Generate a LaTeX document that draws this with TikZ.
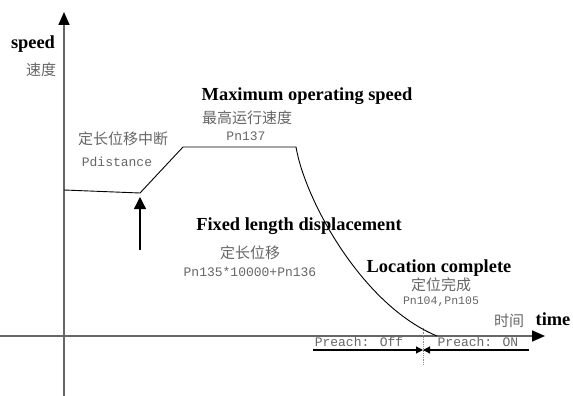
\documentclass[tikz,border=0pt]{standalone}
\usepackage{fontspec}
\setmainfont{Liberation Serif}
\newfontfamily\cjk{Noto Sans CJK SC}
\newfontfamily\pnmono{Liberation Mono}
\usetikzlibrary{arrows.meta}

\begin{document}
\begin{tikzpicture}[
			x=1pt,y=-1pt,
			axis/.style={draw=black!60,line width=1.6pt,-{Triangle[length=13pt,width=11pt,color=black]}},
			curve/.style={draw=black,line width=0.9pt},
			pointer/.style={draw=black,line width=1.3pt,-{Triangle[length=12pt,width=12pt]}},
			reach/.style={draw=black,line width=1.1pt,-{Triangle[length=7pt,width=7pt]}},
			title/.style={font=\fontsize{18.4}{20}\selectfont\bfseries,inner sep=0pt},
			zh/.style={font=\fontsize{15}{16}\selectfont\cjk,text=black!60,inner sep=0pt},
			pn/.style={font=\fontsize{13}{14}\selectfont\pnmono,text=black!60,inner sep=0pt}]
			\useasboundingbox (0,0) rectangle (573,396);
			% axes
			\coordinate (ybot) at (64,396);
			\coordinate (ytop) at (64,12);
			\coordinate (xleft) at (0,336);
			\coordinate (xright) at (545,336);
			\draw[axis] (ybot)--(ytop);
			\draw[axis] (xleft)--(xright);
			% speed profile
			\coordinate (v0) at (64,190);
			\coordinate (v1) at (140,193);
			\coordinate (v2) at (183,147);
			\coordinate (v3) at (296,147);
			\coordinate (v4) at (437,336);
			\draw[curve] (v0)--(v1)--(v2)--(v3) .. controls (305,200) and (362,305) .. (v4);
			% interrupt signal
			\coordinate (hitbot) at (140,250);
			\coordinate (hittip) at (140,197);
			\draw[pointer] (hitbot)--(hittip);
			% preach window
			\coordinate (pleft) at (313,350);
			\coordinate (pright) at (529,350);
			\coordinate (pmid) at (423,350);
			\coordinate (dtop) at (423,328);
			\coordinate (dbot) at (423,365);
			\draw[black!45,densely dotted,line width=0.8pt] (dtop)--(dbot);
			\draw[reach] (pleft)--(pmid);
			\draw[reach] (pright)--(pmid);
			% labels
			\node[title] (speed) at (33,44) {speed};
			\node[zh] (sudu) at (41,70) {速度};
			\node[zh] (stopzh) at (123,139) {定长位移中断};
			\node[pn] (stop) at (117,162) {Pdistance};
			\node[title] (maxsp) at (307,96) {Maximum operating speed};
			\node[zh] (maxzh) at (247,118) {最高运行速度};
			\node[pn] (maxpn) at (246,136) {Pn137};
			\node[title] (fixed) at (299,226) {Fixed length displacement};
			\node[zh] (fixedzh) at (250,253) {定长位移};
			\node[pn] (fixedpn) at (250,272) {Pn135*10000+Pn136};
			\node[title] (locate) at (439,268) {Location complete};
			\node[zh] (locatezh) at (441,285) {定位完成};
			\node[pn,font=\fontsize{11.5}{12}\selectfont\pnmono] (locatepn) at (441,302) {Pn104,Pn105};
			\node[zh] (shijian) at (509,321) {时间};
			\node[title] (time) at (553,319) {time};
			\node[pn] (preoff) at (359,342) {Preach: Off};
			\node[pn] (preon) at (478,342) {Preach: ON};
		\end{tikzpicture}
\end{document}
